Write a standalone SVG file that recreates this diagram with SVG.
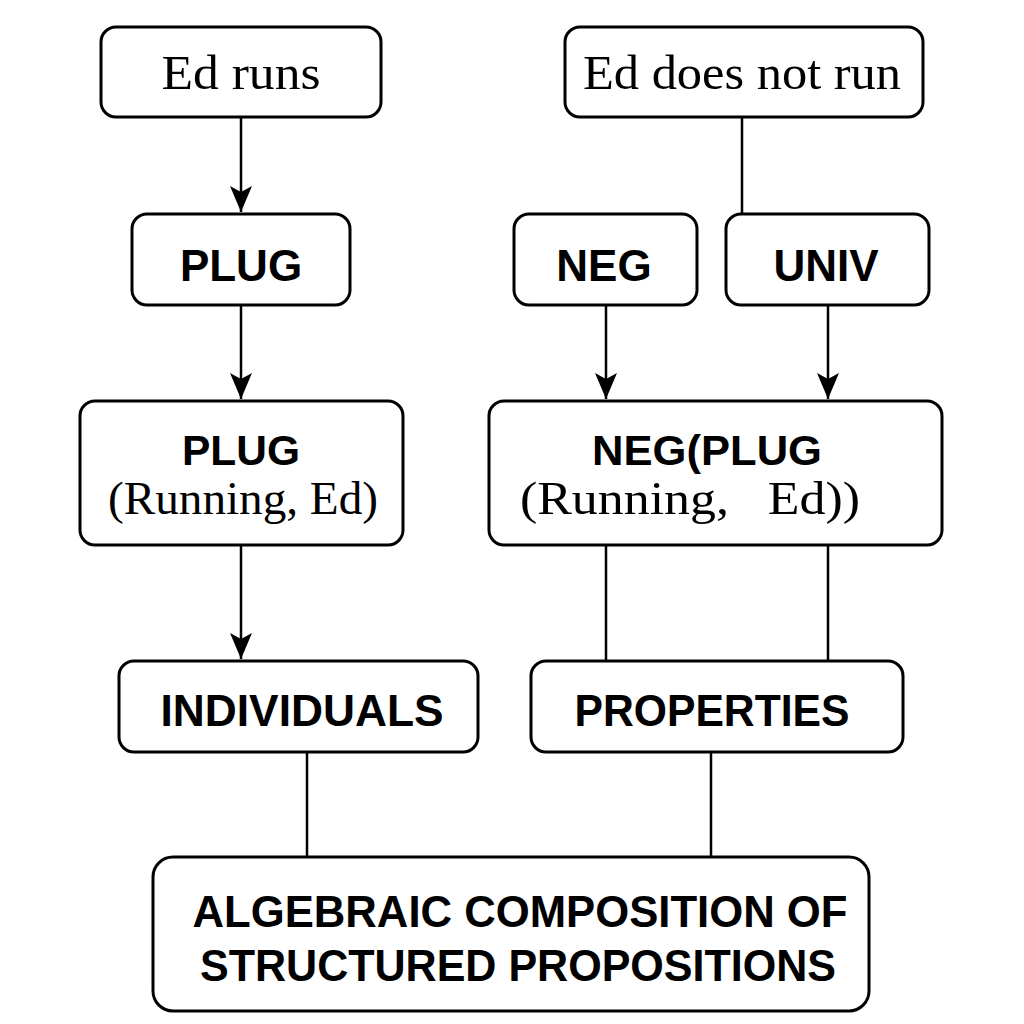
<svg xmlns="http://www.w3.org/2000/svg" width="1024" height="1024" viewBox="0 0 1024 1024">
<defs>
<style>
.box{fill:#fff;stroke:#000;stroke-width:3}
.edge{stroke:#000;stroke-width:2.5;fill:none}
.serif{font-family:"Liberation Serif","DejaVu Serif",serif;fill:#000;text-anchor:middle}
.sans{font-family:"Liberation Sans","Arial",sans-serif;font-weight:bold;fill:#000;text-anchor:middle}
</style>
<marker id="arr" viewBox="0 0 26 22" refX="26" refY="11" markerWidth="26" markerHeight="22" markerUnits="userSpaceOnUse" orient="auto">
<path d="M0,0 L26,11 L0,22 L6,11 Z" fill="#000"/>
</marker>
</defs>
<rect width="1024" height="1024" fill="#fff"/>
<g id="connectors">
<line class="edge" x1="241" y1="117" x2="241" y2="212" marker-end="url(#arr)"/>
<line class="edge" x1="742" y1="117" x2="742" y2="214"/>
<line class="edge" x1="241" y1="305" x2="241" y2="399" marker-end="url(#arr)"/>
<line class="edge" x1="606" y1="305" x2="606" y2="399" marker-end="url(#arr)"/>
<line class="edge" x1="828" y1="305" x2="828" y2="399" marker-end="url(#arr)"/>
<line class="edge" x1="241" y1="545" x2="241" y2="659" marker-end="url(#arr)"/>
<line class="edge" x1="606" y1="545" x2="606" y2="661"/>
<line class="edge" x1="828" y1="545" x2="828" y2="661"/>
<line class="edge" x1="307" y1="752" x2="307" y2="857"/>
<line class="edge" x1="711" y1="752" x2="711" y2="857"/>
</g>
<g id="ed-runs">
<rect class="box" x="101" y="27" width="280" height="90" rx="15"/>
<text class="serif" x="241" y="89" font-size="48" textLength="159" lengthAdjust="spacingAndGlyphs">Ed runs</text>
</g>
<g id="ed-does-not-run">
<rect class="box" x="565" y="27" width="358" height="90" rx="15"/>
<text class="serif" x="742" y="89" font-size="48" textLength="318" lengthAdjust="spacingAndGlyphs">Ed does not run</text>
</g>
<g id="plug">
<rect class="box" x="132" y="214" width="218" height="91" rx="15"/>
<text class="sans" x="241" y="281" font-size="44">PLUG</text>
</g>
<g id="neg">
<rect class="box" x="514" y="214" width="183" height="91" rx="15"/>
<text class="sans" x="604" y="281" font-size="44">NEG</text>
</g>
<g id="univ">
<rect class="box" x="726" y="214" width="203" height="91" rx="15"/>
<text class="sans" x="826" y="281" font-size="44">UNIV</text>
</g>
<g id="plug-running-ed">
<rect class="box" x="80" y="401" width="323" height="144" rx="15"/>
<text class="sans" x="241" y="465" font-size="42" textLength="118" lengthAdjust="spacingAndGlyphs">PLUG</text>
<text class="serif" x="243" y="514" font-size="46" textLength="270" lengthAdjust="spacingAndGlyphs">(Running, Ed)</text>
</g>
<g id="neg-plug-running-ed">
<rect class="box" x="489" y="401" width="453" height="144" rx="15"/>
<text class="sans" x="707" y="465" font-size="42" textLength="230" lengthAdjust="spacingAndGlyphs">NEG(PLUG</text>
<text class="serif" x="690" y="514" font-size="46" textLength="340" lengthAdjust="spacingAndGlyphs" xml:space="preserve">(Running,   Ed))</text>
</g>
<g id="individuals">
<rect class="box" x="119" y="661" width="359" height="91" rx="15"/>
<text class="sans" x="302" y="726" font-size="44" textLength="283" lengthAdjust="spacingAndGlyphs">INDIVIDUALS</text>
</g>
<g id="properties">
<rect class="box" x="531" y="661" width="372" height="91" rx="15"/>
<text class="sans" x="712" y="726" font-size="44" textLength="275" lengthAdjust="spacingAndGlyphs">PROPERTIES</text>
</g>
<g id="algebraic-composition">
<rect class="box" x="153" y="857" width="716" height="154" rx="20"/>
<text class="sans" x="520" y="927" font-size="44" textLength="655" lengthAdjust="spacingAndGlyphs">ALGEBRAIC COMPOSITION OF</text>
<text class="sans" x="518" y="981" font-size="44" textLength="636" lengthAdjust="spacingAndGlyphs">STRUCTURED PROPOSITIONS</text>
</g>
</svg>
